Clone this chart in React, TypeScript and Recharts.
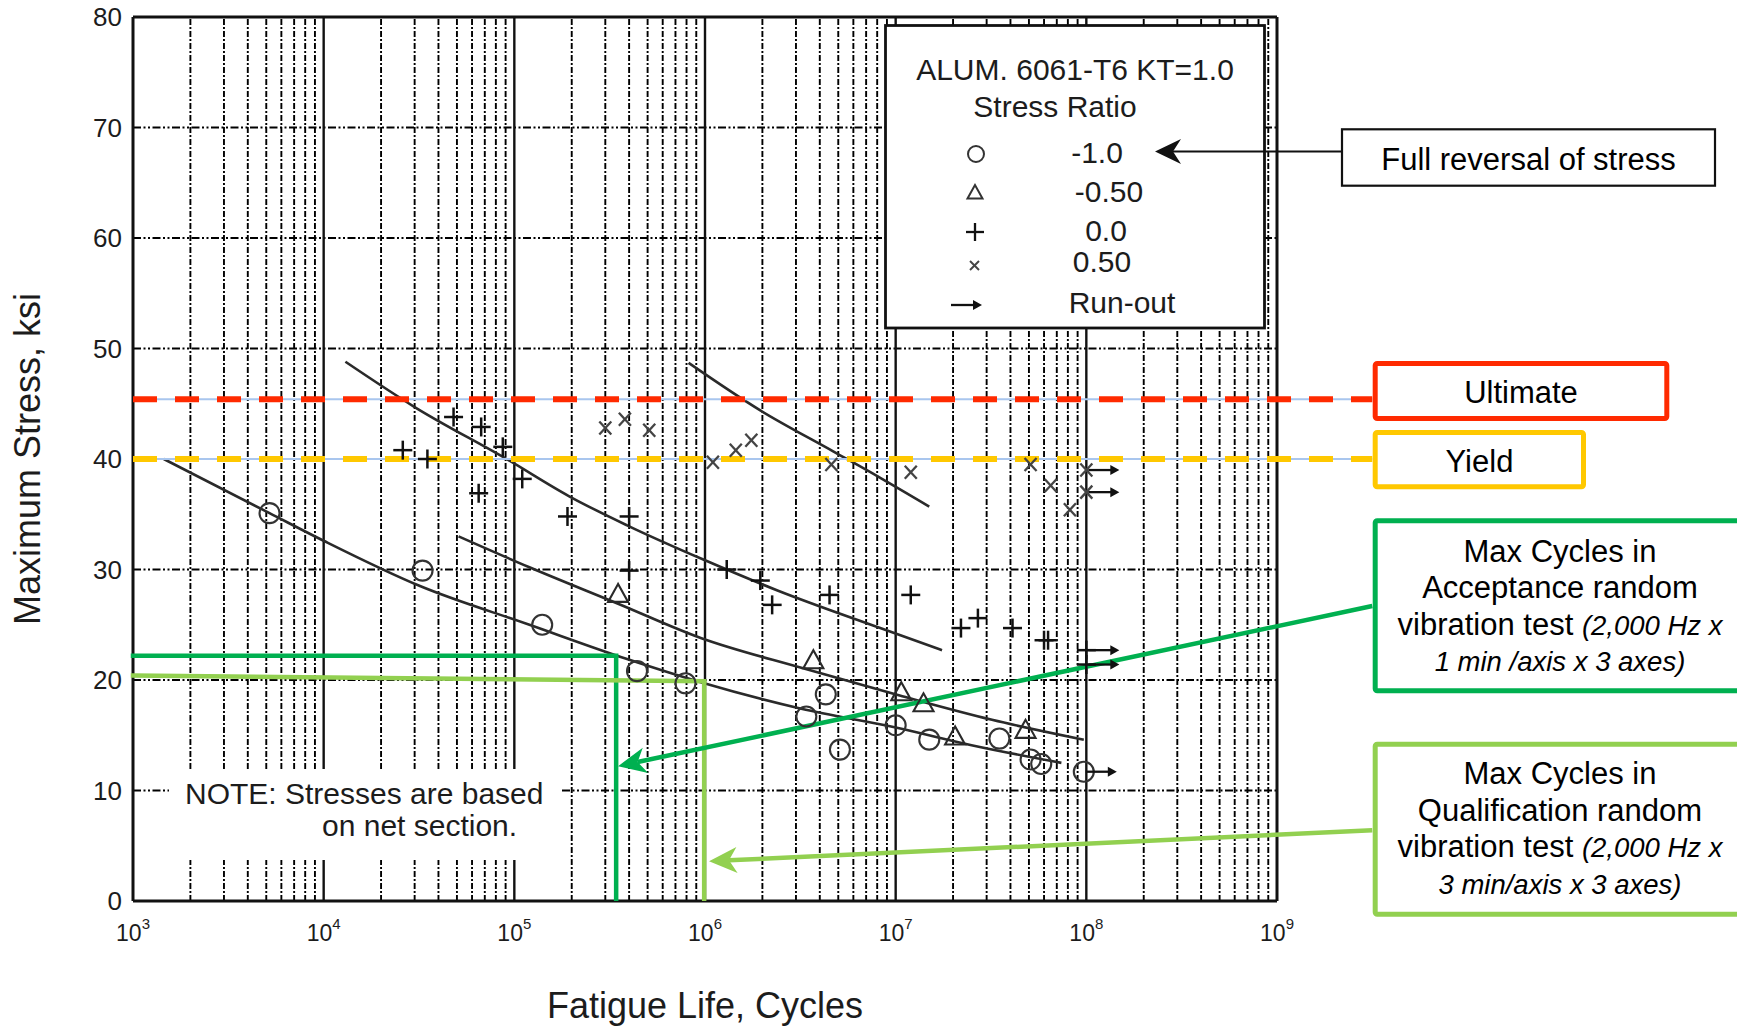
import React from 'react';
import { ComposedChart, XAxis, YAxis, Line, Scatter, ReferenceLine } from 'recharts';

const W = 1737;
const H = 1027;

const X_TICKS = [1e3, 1e4, 1e5, 1e6, 1e7, 1e8, 1e9];
const Y_TICKS = [0, 10, 20, 30, 40, 50, 60, 70, 80];
const DECADES = [1e3, 1e4, 1e5, 1e6, 1e7, 1e8];
const MINOR_STEPS = [2, 3, 4, 5, 6, 7, 8, 9];
const MAJOR_X = [1e4, 1e5, 1e6, 1e7, 1e8];
const GRID_Y = [10, 20, 30, 40, 50, 60, 70];

// test points: cycles to failure / max stress (ksi), one pair of arrays per stress ratio
const R_NEG1_N = [5.2e3, 3.3e4, 1.4e5, 4.4e5, 7.9e5, 3.4e6, 4.3e6, 5.1e6, 1.0e7, 1.5e7, 3.5e7, 5.1e7, 5.8e7];
const R_NEG1_S = [35.1, 29.9, 25.0, 20.8, 19.7, 16.7, 18.7, 13.7, 15.9, 14.6, 14.7, 12.8, 12.4];
const R_NEG05_N = [3.5e5, 3.7e6, 1.07e7, 1.4e7, 2.05e7, 4.8e7];
const R_NEG05_S = [27.7, 21.7, 18.8, 17.8, 14.8, 15.4];
const R_0_N = [2.6e4, 3.5e4, 4.8e4, 6.7e4, 6.5e4, 8.7e4, 1.1e5, 1.9e5, 4.0e5, 4.0e5, 1.3e6, 1.95e6, 2.25e6, 4.5e6, 1.2e7, 2.2e7, 2.7e7, 4.1e7, 6.0e7, 6.3e7];
const R_0_S = [40.8, 40.0, 43.8, 42.9, 36.9, 41.1, 38.2, 34.8, 34.8, 29.9, 30.0, 29.0, 26.8, 27.7, 27.7, 24.7, 25.6, 24.7, 23.6, 23.6];
const R_05_N = [3.0e5, 3.8e5, 5.1e5, 1.1e6, 1.45e6, 1.75e6, 4.6e6, 1.2e7, 5.1e7, 6.5e7, 8.2e7];
const R_05_S = [42.8, 43.6, 42.6, 39.7, 40.8, 41.7, 39.5, 38.8, 39.5, 37.6, 35.4];

// run-outs (no failure)
const RUN_NEG1_N = [9.7e7];
const RUN_NEG1_S = [11.7];
const RUN_0_N = [1.0e8, 1.0e8];
const RUN_0_S = [22.7, 21.4];
const RUN_05_N = [1.0e8, 1.0e8];
const RUN_05_S = [39.0, 37.0];

// best-fit curves
const FIT_NEG1_N = [1.45e3, 5.2e3, 1.0e4, 3.2e4, 1.2e5, 3.9e5, 9.5e5, 3.2e6, 1.0e7, 2.5e7, 7.4e7];
const FIT_NEG1_S = [40.0, 35.1, 32.6, 28.5, 25.0, 21.9, 19.8, 17.4, 15.7, 14.1, 12.5];
const FIT_NEG05_N = [5.1e4, 1.2e5, 3.5e5, 9.5e5, 3.2e6, 1.05e7, 3.2e7, 9.7e7];
const FIT_NEG05_S = [33.0, 30.2, 26.9, 23.8, 21.1, 18.6, 16.4, 14.6];
const FIT_0_N = [1.3e4, 3.0e4, 9.1e4, 1.95e5, 3.9e5, 9.8e5, 2.4e6, 8.3e6, 1.75e7];
const FIT_0_S = [48.8, 44.7, 40.0, 36.6, 34.0, 30.9, 28.1, 24.7, 22.7];
const FIT_05_N = [8.2e5, 1.95e6, 4.7e6, 8.3e6, 1.5e7];
const FIT_05_S = [48.7, 44.4, 40.7, 38.3, 35.7];

// material limits and test cycle counts
const ULTIMATE = 45.4;
const YIELD = 40;
const ACCEPT_N = 3.42e5;
const ACCEPT_S = 22.2;
const QUAL_N = 9.9e5;
const QUAL_S_START = 20.4;
const QUAL_S_END = 19.9;
const BOX_EDGE_N = 3.16e9; // left edge of the side boxes, past the axis end

const zip = (n: number[], s: number[]) => n.map((v, i) => ({ n: v, s: s[i] }));

const INK = '#1c1c1c';
const RED = '#FF2A00';
const GOLD = '#FFC800';
const GREEN = '#00B050';
const LIME = '#92D050';
const PALE_BLUE = '#A9C6EE';

const MINOR_X = DECADES.flatMap((d) => MINOR_STEPS.map((m) => m * d));

const CircleMark = (p: any) => (
  <circle cx={p.cx} cy={p.cy} r={10} fill="none" stroke="#333" strokeWidth={2.1} />
);
const TriangleMark = (p: any) => (
  <polygon
    points={`${p.cx},${p.cy - 11} ${p.cx - 10},${p.cy + 7} ${p.cx + 10},${p.cy + 7}`}
    fill="none"
    stroke="#2a2a2a"
    strokeWidth={2.1}
  />
);
const PlusMark = (p: any) => (
  <g stroke="#111" strokeWidth={2.5}>
    <line x1={p.cx - 9.5} y1={p.cy} x2={p.cx + 9.5} y2={p.cy} />
    <line x1={p.cx} y1={p.cy - 9.5} x2={p.cx} y2={p.cy + 9.5} />
  </g>
);
const CrossMark = (p: any) => (
  <g stroke="#444" strokeWidth={2.3}>
    <line x1={p.cx - 6} y1={p.cy - 6.5} x2={p.cx + 6} y2={p.cy + 6.5} />
    <line x1={p.cx + 6} y1={p.cy - 6.5} x2={p.cx - 6} y2={p.cy + 6.5} />
  </g>
);
const RunArrow = ({ x, y }: { x: number; y: number }) => (
  <g>
    <line x1={x} y1={y} x2={x + 24} y2={y} stroke="#111" strokeWidth={2.3} />
    <path d={`M${x + 31},${y} L${x + 22},${y - 5} L${x + 22},${y + 5} Z`} fill="#111" />
  </g>
);
const runShape = (Mark: any) => (p: any) => (
  <g>
    <Mark {...p} />
    <RunArrow x={p.cx + 2} y={p.cy} />
  </g>
);

// line plus a stealth arrow head on the first segment point
const arrowShape = (color: string, width: number, len: number, half: number, notch: number) => (p: any) => {
  const { x1, y1, x2, y2 } = p;
  const L = Math.hypot(x2 - x1, y2 - y1) || 1;
  const ux = (x2 - x1) / L;
  const uy = (y2 - y1) / L;
  const bx = x1 + ux * len;
  const by = y1 + uy * len;
  const nx = x1 + ux * (len - notch);
  const ny = y1 + uy * (len - notch);
  return (
    <g>
      <line x1={nx} y1={ny} x2={x2} y2={y2} stroke={color} strokeWidth={width} />
      <path
        d={`M${x1},${y1} L${bx - uy * half},${by + ux * half} L${nx},${ny} L${bx + uy * half},${by - ux * half} Z`}
        fill={color}
      />
    </g>
  );
};

const XTick = (p: any) => {
  const exp = Math.round(Math.log10(p.payload.value));
  return (
    <text x={p.x} y={p.y + 40} textAnchor="middle" fill={INK} fontSize={23}>
      10
      <tspan dy={-12} fontSize={15}>
        {exp}
      </tspan>
    </text>
  );
};

const YTitle = (p: any) => {
  const vb = p.viewBox || { x: 0, y: 17, width: 133, height: 884 };
  const x = vb.x + 40;
  const y = vb.y + vb.height / 2;
  return (
    <text x={x} y={y} transform={`rotate(-90, ${x}, ${y})`} textAnchor="middle" fontSize={36} fill={INK}>
      Maximum Stress, ksi
    </text>
  );
};

const XTitle = (p: any) => {
  const vb = p.viewBox || { x: 133, y: 901, width: 1144, height: 126 };
  return (
    <text x={vb.x + vb.width / 2} y={vb.y + vb.height - 9} textAnchor="middle" fontSize={36} fill={INK}>
      Fatigue Life, Cycles
    </text>
  );
};

const LEGEND_ROWS = [
  { label: '-1.0', y: 152, lx: 1097 },
  { label: '-0.50', y: 191, lx: 1109 },
  { label: '0.0', y: 230, lx: 1106 },
  { label: '0.50', y: 261, lx: 1102 },
  { label: 'Run-out', y: 302, lx: 1122 },
];

const Overlay = () => (
  <svg
    width={W}
    height={H}
    style={{ position: 'absolute', left: 0, top: 0, pointerEvents: 'none' }}
    fontFamily='"Liberation Sans", Arial, Helvetica, sans-serif'
  >
    {/* note */}
    <rect x={169} y={769} width={393} height={91} fill="#fff" />
    <text x={185} y={804} fontSize={30} fill={INK}>NOTE: Stresses are based</text>
    <text x={322} y={836} fontSize={30} fill={INK}>on net section.</text>

    {/* legend */}
    <rect x={885.5} y={25.5} width={379} height={302.5} fill="#fff" stroke="#111" strokeWidth={2.8} />
    <text x={1075} y={80} fontSize={30} textAnchor="middle" fill={INK}>ALUM. 6061-T6 KT=1.0</text>
    <text x={1055} y={117} fontSize={30} textAnchor="middle" fill={INK}>Stress Ratio</text>
    <circle cx={976} cy={154} r={8} fill="none" stroke="#333" strokeWidth={2} />
    <polygon points="975,185 967.5,198.5 982.5,198.5" fill="none" stroke="#333" strokeWidth={2} />
    <g stroke="#111" strokeWidth={2.3}>
      <line x1={966} y1={232} x2={984} y2={232} />
      <line x1={975} y1={223} x2={975} y2={241} />
    </g>
    <g stroke="#444" strokeWidth={2}>
      <line x1={970} y1={261} x2={979} y2={270} />
      <line x1={979} y1={261} x2={970} y2={270} />
    </g>
    <RunArrow x={951} y={305} />
    {LEGEND_ROWS.map((r) => (
      <text key={r.label} x={r.lx} y={r.y + 11} fontSize={30} textAnchor="middle" fill={INK}>
        {r.label}
      </text>
    ))}

    {/* full reversal callout */}
    <line x1={1172} y1={151.5} x2={1342} y2={151.5} stroke="#111" strokeWidth={2.2} />
    <path d="M1155,151.5 L1181,139 L1173,151.5 L1181,164 Z" fill="#111" />
    <rect x={1342} y={129.3} width={373} height={56.4} fill="#fff" stroke="#111" strokeWidth={2.2} />
    <text x={1528.5} y={170} fontSize={31} textAnchor="middle" fill="#000">Full reversal of stress</text>

    <rect x={1375.2} y={363.5} width={291.6} height={55} fill="#fff" stroke={RED} strokeWidth={5} rx={2} />
    <text x={1521} y={402.5} fontSize={31} textAnchor="middle" fill="#000">Ultimate</text>
    <rect x={1375.2} y={432.5} width={208.3} height={54.3} fill="#fff" stroke={GOLD} strokeWidth={5} rx={2} />
    <text x={1479.5} y={471.5} fontSize={31} textAnchor="middle" fill="#000">Yield</text>

    <rect x={1375.2} y={520.8} width={380} height={170} fill="#fff" stroke={GREEN} strokeWidth={5} rx={2} />
    <g fontSize={31} textAnchor="middle" fill="#000">
      <text x={1560} y={561.5}>Max Cycles in</text>
      <text x={1560} y={598}>Acceptance random</text>
      <text x={1560} y={635}>
        vibration test <tspan fontStyle="italic" fontSize={27.5}>(2,000 Hz x</tspan>
      </text>
      <text x={1560} y={671} fontStyle="italic" fontSize={27.5}>1 min /axis x 3 axes)</text>
    </g>

    <rect x={1375.2} y={744.2} width={380} height={170} fill="#fff" stroke={LIME} strokeWidth={5} rx={2} />
    <g fontSize={31} textAnchor="middle" fill="#000">
      <text x={1560} y={784}>Max Cycles in</text>
      <text x={1560} y={820.5}>Qualification random</text>
      <text x={1560} y={857}>
        vibration test <tspan fontStyle="italic" fontSize={27.5}>(2,000 Hz x</tspan>
      </text>
      <text x={1560} y={893.5} fontStyle="italic" fontSize={27.5}>3 min/axis x 3 axes)</text>
    </g>
  </svg>
);

export default function App() {
  return (
    <div
      style={{
        position: 'absolute',
        left: 0,
        top: 0,
        width: W,
        height: H,
        overflow: 'hidden',
        background: '#fff',
        fontFamily: '"Liberation Sans", Arial, Helvetica, sans-serif',
      }}
    >
      <ComposedChart width={W} height={H} margin={{ top: 17, right: 460, bottom: 0, left: 0 }}>
        <XAxis
          dataKey="n"
          type="number"
          scale="log"
          domain={[1e3, 1e9]}
          allowDataOverflow
          ticks={X_TICKS}
          interval={0}
          height={126}
          tickSize={0}
          tickMargin={0}
          tickLine={false}
          axisLine={false}
          tick={<XTick />}
          label={{ content: XTitle }}
        />
        <YAxis
          dataKey="s"
          type="number"
          domain={[0, 80]}
          allowDataOverflow
          ticks={Y_TICKS}
          interval={0}
          width={133}
          tickSize={0}
          tickMargin={11}
          tickLine={false}
          axisLine={false}
          tick={{ fontSize: 26, fill: INK }}
          label={{ content: YTitle }}
        />

        {MINOR_X.map((v) => (
          <ReferenceLine key={`mx${v}`} x={v} stroke="#000" strokeWidth={1.9} strokeDasharray="6 2 2 2" />
        ))}
        {GRID_Y.map((v) => (
          <ReferenceLine key={`gy${v}`} y={v} stroke="#000" strokeWidth={1.9} strokeDasharray="8 2.5 2 2.5 2 2.5" />
        ))}
        {MAJOR_X.map((v) => (
          <ReferenceLine key={`MX${v}`} x={v} stroke="#111" strokeWidth={2.4} />
        ))}
        <ReferenceLine x={1e3} stroke="#111" strokeWidth={3} />
        <ReferenceLine x={1e9} stroke="#111" strokeWidth={3} />
        <ReferenceLine y={0} stroke="#111" strokeWidth={3.2} />
        <ReferenceLine y={80} stroke="#111" strokeWidth={3} />

        <Line data={zip(FIT_NEG1_N, FIT_NEG1_S)} dataKey="s" type="monotone" stroke="#2a2a2a" strokeWidth={2.6} dot={false} isAnimationActive={false} />
        <Line data={zip(FIT_NEG05_N, FIT_NEG05_S)} dataKey="s" type="monotone" stroke="#2a2a2a" strokeWidth={2.6} dot={false} isAnimationActive={false} />
        <Line data={zip(FIT_0_N, FIT_0_S)} dataKey="s" type="monotone" stroke="#2a2a2a" strokeWidth={2.6} dot={false} isAnimationActive={false} />
        <Line data={zip(FIT_05_N, FIT_05_S)} dataKey="s" type="monotone" stroke="#2a2a2a" strokeWidth={2.6} dot={false} isAnimationActive={false} />

        <Scatter data={zip(R_NEG1_N, R_NEG1_S)} dataKey="s" shape={CircleMark} isAnimationActive={false} />
        <Scatter data={zip(R_NEG05_N, R_NEG05_S)} dataKey="s" shape={TriangleMark} isAnimationActive={false} />
        <Scatter data={zip(R_0_N, R_0_S)} dataKey="s" shape={PlusMark} isAnimationActive={false} />
        <Scatter data={zip(R_05_N, R_05_S)} dataKey="s" shape={CrossMark} isAnimationActive={false} />
        <Scatter data={zip(RUN_NEG1_N, RUN_NEG1_S)} dataKey="s" shape={runShape(CircleMark)} isAnimationActive={false} />
        <Scatter data={zip(RUN_0_N, RUN_0_S)} dataKey="s" shape={runShape(PlusMark)} isAnimationActive={false} />
        <Scatter data={zip(RUN_05_N, RUN_05_S)} dataKey="s" shape={runShape(CrossMark)} isAnimationActive={false} />

        {/* ultimate / yield limits */}
        <ReferenceLine segment={[{ x: 1e3, y: ULTIMATE }, { x: BOX_EDGE_N, y: ULTIMATE }]} ifOverflow="visible" stroke={PALE_BLUE} strokeWidth={2} />
        <ReferenceLine segment={[{ x: 1e3, y: ULTIMATE }, { x: BOX_EDGE_N, y: ULTIMATE }]} ifOverflow="visible" stroke={RED} strokeWidth={6} strokeDasharray="24 18" />
        <ReferenceLine segment={[{ x: 1e3, y: YIELD }, { x: BOX_EDGE_N, y: YIELD }]} ifOverflow="visible" stroke={PALE_BLUE} strokeWidth={2} />
        <ReferenceLine segment={[{ x: 1e3, y: YIELD }, { x: BOX_EDGE_N, y: YIELD }]} ifOverflow="visible" stroke={GOLD} strokeWidth={6} strokeDasharray="24 18" />

        {/* acceptance / qualification cycle counts */}
        <ReferenceLine segment={[{ x: 1e3, y: ACCEPT_S }, { x: ACCEPT_N, y: ACCEPT_S }]} ifOverflow="visible" stroke={GREEN} strokeWidth={4.5} strokeLinecap="square" />
        <ReferenceLine segment={[{ x: ACCEPT_N, y: ACCEPT_S }, { x: ACCEPT_N, y: 0 }]} ifOverflow="visible" stroke={GREEN} strokeWidth={4.5} />
        <ReferenceLine segment={[{ x: 1e3, y: QUAL_S_START }, { x: QUAL_N, y: QUAL_S_END }]} ifOverflow="visible" stroke={LIME} strokeWidth={4.5} strokeLinecap="square" />
        <ReferenceLine segment={[{ x: QUAL_N, y: QUAL_S_END }, { x: QUAL_N, y: 0 }]} ifOverflow="visible" stroke={LIME} strokeWidth={4.5} />
        <ReferenceLine segment={[{ x: 3.5e5, y: 12.2 }, { x: BOX_EDGE_N, y: 26.7 }]} ifOverflow="visible" shape={arrowShape(GREEN, 4.5, 28, 13, 8)} />
        <ReferenceLine segment={[{ x: 1.05e6, y: 3.6 }, { x: BOX_EDGE_N, y: 6.4 }]} ifOverflow="visible" shape={arrowShape(LIME, 4.5, 28, 13, 8)} />
      </ComposedChart>
      <Overlay />
    </div>
  );
}
